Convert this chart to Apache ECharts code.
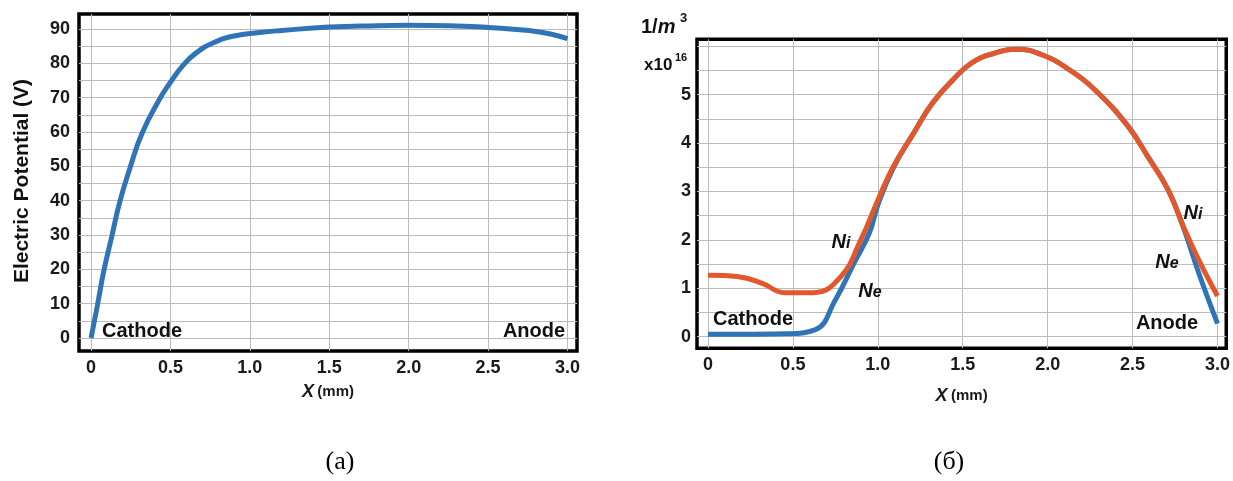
<!DOCTYPE html>
<html>
<head>
<meta charset="utf-8">
<script src="https://cdn.jsdelivr.net/npm/echarts@6/dist/echarts.min.js"></script>
<style>
html,body{margin:0;padding:0;background:#fff;}
#c{width:1233px;height:481px;}
</style>
</head>
<body>
<div id="c"></div>
<script>
// ---- Data ----
const xTicks = [0, 0.5, 1.0, 1.5, 2.0, 2.5, 3.0];
const potTickLabels = [0, 10, 20, 30, 40, 50, 60, 70, 80, 90];
const potGridValues = [0,5,10,15,20,25,30,35,40,45,50,55,60,65,70,75,80,85,90];
const densTickLabels = [0, 1, 2, 3, 4, 5];
const densGridValues = [0,0.5,1,1.5,2,2.5,3,3.5,4,4.5,5,5.5,6];

const potX = [0, 0.04, 0.08, 0.13, 0.18, 0.245, 0.32, 0.43, 0.5, 0.58, 0.66, 0.77, 0.9, 1.06, 1.2, 1.5, 1.8, 2.0, 2.3, 2.5, 2.7, 2.8, 2.9, 3.0];
const potV = [0, 9.5, 19.5, 29.5, 39.5, 49.5, 59.5, 69.5, 74.5, 79.5, 83, 86, 88, 89, 89.6, 90.6, 91, 91.1, 90.9, 90.5, 89.8, 89.3, 88.5, 87.2];

const niX = [0, 0.18, 0.32, 0.45, 0.62, 0.78, 0.9, 1.0, 1.09, 1.21, 1.32, 1.44, 1.55, 1.67, 1.82, 1.97, 2.13, 2.29, 2.475, 2.59, 2.71, 2.8, 2.89, 3.0];
const niY = [1.27, 1.24, 1.1, 0.91, 0.91, 1.23, 2.0, 2.82, 3.51, 4.2, 4.82, 5.3, 5.65, 5.84, 5.94, 5.82, 5.51, 5.06, 4.34, 3.72, 3.03, 2.27, 1.58, 0.84];

const neX = [0, 0.2, 0.45, 0.63, 0.75, 0.86, 0.95, 1.0, 1.09, 1.21, 1.32, 1.44, 1.55, 1.67, 1.82, 1.97, 2.13, 2.29, 2.475, 2.59, 2.71, 2.8, 2.89, 3.0];
const neY = [0.05, 0.05, 0.06, 0.14, 0.76, 1.52, 2.14, 2.72, 3.48, 4.2, 4.82, 5.3, 5.65, 5.84, 5.94, 5.82, 5.51, 5.06, 4.34, 3.72, 3.03, 2.25, 1.31, 0.27];

// ---- Chart ----
const FONT = 'Liberation Sans, Arial, sans-serif';
const BLUE = '#2e74b7';
const ORANGE = '#e2582c';
const GRIDC = '#bcbcbc';
const pair = (xs, ys) => xs.map((x, i) => [x, ys[i]]);
const fmtX = v => (v === 0 ? '0' : v.toFixed(1));

function xAxis(gridIndex, min, max, gap) {
  return {
    type: 'value', gridIndex, min, max,
    axisLine: {show: false},
    axisTick: {show: false, customValues: xTicks},
    axisLabel: {customValues: xTicks, formatter: fmtX, margin: 8,
      color: '#1a1a1a', fontFamily: FONT, fontWeight: 'bold', fontSize: 18},
    splitLine: {show: true, lineStyle: {color: GRIDC, width: 1}},
    name: '{x|X} {u|(mm)}', nameLocation: 'middle', nameGap: gap,
    nameTextStyle: {rich: {
      x: {fontFamily: FONT, fontWeight: 'bold', fontStyle: 'italic', fontSize: 18, color: '#1a1a1a'},
      u: {fontFamily: FONT, fontWeight: 'bold', fontSize: 15, color: '#1a1a1a'}
    }}
  };
}
function yAxis(gridIndex, min, max, labels, grids, margin) {
  return {
    type: 'value', gridIndex, min, max,
    axisLine: {show: false},
    axisTick: {show: false, customValues: grids},
    axisLabel: {customValues: labels, margin,
      color: '#1a1a1a', fontFamily: FONT, fontWeight: 'bold', fontSize: 18},
    splitLine: {show: true, lineStyle: {color: GRIDC, width: 1}}
  };
}

function txt(x, y, text, size, align) {
  return {
    type: 'text', x, y, z: 100,
    style: {text, fill: '#111', font: 'bold ' + size + 'px ' + FONT, align: align || 'center', verticalAlign: 'middle'}
  };
}
function nLabel(x, y, sub) {
  return {
    type: 'text', x, y, z: 100,
    style: {
      text: '{a|N}{b|' + sub + '}', align: 'center', verticalAlign: 'middle',
      rich: {
        a: {fontFamily: FONT, fontWeight: 'bold', fontStyle: 'italic', fontSize: 20, fill: '#111', color: '#111'},
        b: {fontFamily: FONT, fontWeight: 'bold', fontStyle: 'italic', fontSize: 16, fill: '#111', color: '#111', verticalAlign: 'bottom'}
      }
    }
  };
}

const chart = echarts.init(document.getElementById('c'), null, {renderer: 'canvas'});
chart.setOption({
  animation: false,
  backgroundColor: '#fff',
  grid: [
    {left: 79, top: 14, width: 498, height: 337, show: true, borderColor: '#000', borderWidth: 3.5, backgroundColor: 'transparent'},
    {left: 697, top: 39.3, width: 531, height: 309, show: true, borderColor: '#000', borderWidth: 3.5, backgroundColor: 'transparent'}
  ],
  xAxis: [xAxis(0, -0.076, 3.06, 32), xAxis(1, -0.0645, 3.0516, 39)],
  yAxis: [
    yAxis(0, -3.79, 94.4, potTickLabels, potGridValues, 9),
    yAxis(1, -0.24, 6.145, densTickLabels, densGridValues, 6)
  ],
  series: [
    {type: 'line', xAxisIndex: 0, yAxisIndex: 0, data: pair(potX, potV), showSymbol: false,
     smooth: 0.5, lineStyle: {color: BLUE, width: 5}, z: 3},
    {type: 'line', xAxisIndex: 1, yAxisIndex: 1, data: pair(neX, neY), showSymbol: false,
     smooth: 0.45, lineStyle: {color: BLUE, width: 5}, z: 3},
    {type: 'line', xAxisIndex: 1, yAxisIndex: 1, data: pair(niX, niY), showSymbol: false,
     smooth: 0.45, lineStyle: {color: ORANGE, width: 5}, z: 4}
  ],
  graphic: [
    {type: 'text', x: 22, y: 181, rotation: Math.PI / 2, z: 100,
     style: {text: 'Electric Potential (V)', fill: '#111', font: 'bold 21px ' + FONT, align: 'center', verticalAlign: 'middle'}},
    txt(142, 331, 'Cathode', 20),
    txt(534, 331, 'Anode', 20),
    txt(753, 319, 'Cathode', 20),
    txt(1167, 323, 'Anode', 20),
    nLabel(841, 242, 'i'),
    nLabel(870, 291, 'e'),
    nLabel(1193, 213, 'i'),
    nLabel(1167, 262, 'e'),
    {type: 'text', x: 641, y: 27, z: 100,
     style: {text: '{a|1/}{b|m}', align: 'left', verticalAlign: 'middle',
       rich: {a: {fontFamily: FONT, fontWeight: 'bold', fontSize: 20, fill: '#111', color: '#111'},
              b: {fontFamily: FONT, fontWeight: 'bold', fontStyle: 'italic', fontSize: 20, fill: '#111', color: '#111'}}}},
    txt(680, 18, '3', 13, 'left'),
    {type: 'text', x: 644, y: 65, z: 100,
     style: {text: 'x10', fill: '#111', font: 'bold 17px ' + FONT, align: 'left', verticalAlign: 'middle'}},
    txt(675, 58, '16', 11, 'left'),
    {type: 'text', x: 340, y: 462, z: 100,
     style: {text: '(a)', fill: '#000', font: '26px Liberation Serif, Times New Roman, serif', align: 'center', verticalAlign: 'middle'}},
    {type: 'text', x: 949, y: 462, z: 100,
     style: {text: '(б)', fill: '#000', font: '26px Liberation Serif, Times New Roman, serif', align: 'center', verticalAlign: 'middle'}}
  ]
});
</script>
</body>
</html>
